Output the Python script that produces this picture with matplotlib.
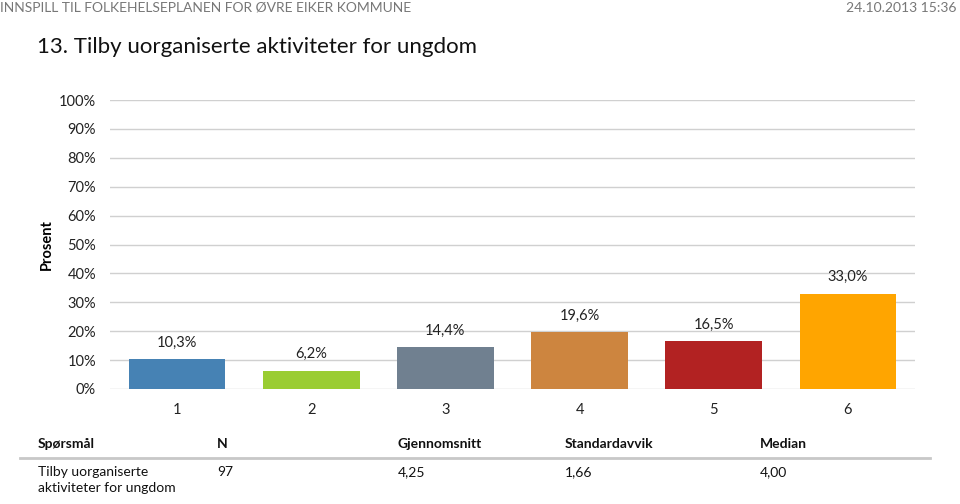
import matplotlib.pyplot as plt
from matplotlib.ticker import PercentFormatter

plt.rcParams['font.family'] = ['Lato', 'DejaVu Sans']

# Data
kategorier = ['1', '2', '3', '4', '5', '6']
andeler = [10.3, 6.2, 14.4, 19.6, 16.5, 33.0]
farger = ['#4682b4', '#9acd32', '#708090', '#cd853f', '#b22222', '#ffa500']
etiketter = ['10,3%', '6,2%', '14,4%', '19,6%', '16,5%', '33,0%']

tabell_kolonner = ['Spørsmål', 'N', 'Gjennomsnitt', 'Standardavvik', 'Median']
tabell_rad = ['Tilby uorganiserte\naktiviteter for ungdom', '97', '4,25', '1,66', '4,00']

fig = plt.figure(figsize=(9.6, 5.04), dpi=100)
W, H = 960, 504
ax = fig.add_axes([110 / W, 1 - 389 / H, 805 / W, 289 / H])

x = range(len(kategorier))
ax.bar(x, andeler, width=0.72, color=farger, zorder=3)
for i, (v, lab) in enumerate(zip(andeler, etiketter)):
    ax.annotate(lab, (i, v), xytext=(0, 7), textcoords='offset points',
                ha='center', va='bottom', fontsize=10.5, color='#222222')

ax.set_xlim(-0.5, len(kategorier) - 0.5)
ax.set_ylim(0, 100)
ax.set_yticks(range(0, 101, 10))
ax.yaxis.set_major_formatter(PercentFormatter(decimals=0))
ax.set_xticks(list(x))
ax.set_xticklabels(kategorier)
ax.grid(axis='y', color='#d0d0d0', linewidth=1, zorder=0)
for s in ax.spines.values():
    s.set_visible(False)
ax.tick_params(axis='both', length=0, labelsize=10.5, colors='#222222')
ax.tick_params(axis='y', pad=10)
ax.tick_params(axis='x', pad=10)
ax.set_ylabel('Prosent', fontsize=10.5, fontweight='bold', labelpad=4)

# Topptekst
fig.text(0 / W, 1 - 8 / H, 'INNSPILL TIL FOLKEHELSEPLANEN FOR ØVRE EIKER KOMMUNE',
         fontsize=10, color='#777777', va='center', ha='left')
fig.text(956 / W, 1 - 8 / H, '24.10.2013 15:36', fontsize=10, color='#777777',
         va='center', ha='right')
fig.text(37 / W, 1 - 47 / H, '13. Tilby uorganiserte aktiviteter for ungdom',
         fontsize=16, color='#111111', va='center', ha='left')

# Tabell
kol_x = [38, 217, 398, 565, 760]
for cx, tekst in zip(kol_x, tabell_kolonner):
    fig.text(cx / W, 1 - 444 / H, tekst, fontsize=10, fontweight='bold',
             va='center', ha='left', color='#111111')
fig.add_artist(plt.Line2D([20 / W, 930 / W], [1 - 458 / H, 1 - 458 / H],
                          color='#c8c8c8', linewidth=2))
for cx, tekst in zip(kol_x, tabell_rad):
    fig.text(cx / W, 1 - 466 / H, tekst, fontsize=10, va='top', ha='left',
             color='#111111', linespacing=1.35)

fig.savefig('out.png', dpi=100)
